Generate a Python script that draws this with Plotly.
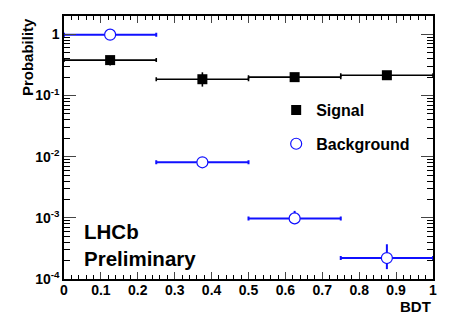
import plotly.graph_objects as go

bin_centers = [0.125, 0.375, 0.625, 0.875]
bin_halfwidth = [0.125, 0.125, 0.125, 0.125]

signal = [0.38, 0.185, 0.20, 0.215]
signal_err_plus = [0.05, 0.055, 0.01, 0.01]
signal_err_minus = [0.07, 0.045, 0.01, 0.01]

background = [0.99, 0.0081, 0.00098, 0.00022]
background_err_plus = [0.01, 0.0008, 0.00032, 0.00015]
background_err_minus = [0.01, 0.0008, 0.00019, 0.000075]

ytick_vals = [1e-4, 1e-3, 1e-2, 1e-1, 1]
ytick_text = ["10<sup>-4</sup>", "10<sup>-3</sup>", "10<sup>-2</sup>", "10<sup>-1</sup>", "1"]

FONT = "Liberation Sans"
BLUE = "#1010ff"

fig = go.Figure()

fig.add_trace(go.Scatter(
    x=bin_centers, y=signal, mode="markers", name="Signal",
    legendgroup="s",
    marker=dict(symbol="square", size=10, color="black"),
    error_x=dict(type="data", array=bin_halfwidth, color="black", thickness=1.6, width=2),
    error_y=dict(type="data", symmetric=False, array=signal_err_plus,
                 arrayminus=signal_err_minus, color="black", thickness=1.6, width=0),
))
fig.add_trace(go.Scatter(
    x=bin_centers, y=background, mode="markers", name="Background",
    legendgroup="b",
    marker=dict(symbol="circle", size=11, color="white", line=dict(color=BLUE, width=1.2)),
    error_x=dict(type="data", array=bin_halfwidth, color=BLUE, thickness=2, width=2),
    error_y=dict(type="data", symmetric=False, array=background_err_plus,
                 arrayminus=background_err_minus, color=BLUE, thickness=2, width=0),
))

minor_y = []
for e in range(-4, 1):
    for m in range(2, 10):
        v = m * 10 ** e
        if v <= 2:
            minor_y.append(v)

fig.update_layout(
    width=457, height=326,
    margin=dict(l=64, r=24, t=16, b=47),
    paper_bgcolor="white", plot_bgcolor="white",
    font=dict(family=FONT, size=13, color="black", weight="bold"),
    showlegend=True,
    legend=dict(x=0.575, y=0.707, xanchor="left", yanchor="top",
                bgcolor="rgba(0,0,0,0)", font=dict(size=16, weight="bold"),
                traceorder="grouped", tracegroupgap=10),
    xaxis=dict(
        range=[0, 1], dtick=0.1, tick0=0, ticks="inside", ticklen=7, tickwidth=1,
        showline=True, linecolor="black", linewidth=1.5, mirror="ticks",
        showgrid=False, zeroline=False, automargin=False, ticklabelstandoff=-3,
        tickfont=dict(family=FONT, size=14, weight="bold"),
        minor=dict(dtick=0.02, ticks="inside", ticklen=4, tickcolor="black"),
    ),
    yaxis=dict(
        type="log", range=[-4, 0.301],
        tickvals=ytick_vals, ticktext=ytick_text,
        ticks="inside", ticklen=12, tickwidth=1,
        showline=True, linecolor="black", linewidth=1.5, mirror="ticks",
        showgrid=False, zeroline=False, automargin=False,
        tickfont=dict(family=FONT, size=14, weight="bold"),
        minor=dict(tickvals=minor_y, ticks="inside", ticklen=6, tickcolor="black"),
    ),
    annotations=[
        dict(text="Probability", xref="paper", yref="paper", x=-0.1, y=1.0,
             xanchor="center", yanchor="top", textangle=-90, showarrow=False,
             font=dict(size=15, weight="bold")),
        dict(text="BDT", xref="paper", yref="paper", x=1.0, y=-0.106,
             xanchor="right", yanchor="middle", showarrow=False,
             font=dict(size=15, weight="bold")),
        dict(text="LHCb<br>Preliminary", xref="paper", yref="paper", x=0.048, y=0.13,
             xanchor="left", yanchor="middle", align="left", showarrow=False,
             font=dict(size=20.5, weight="bold")),
    ],
)

fig.write_html("out.html", config={"displayModeBar": False},
               post_script="document.body.style.margin='0';")
